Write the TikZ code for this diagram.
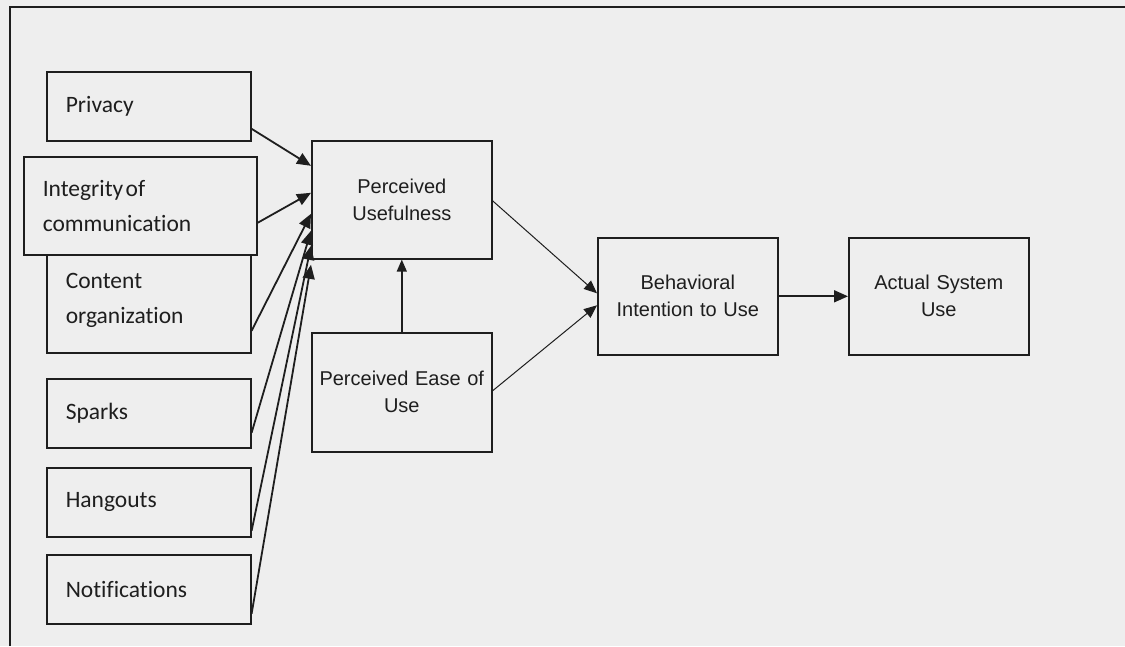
\documentclass[tikz,border=0pt]{standalone}
\usepackage{fontspec}
\setmainfont{Liberation Sans}
\newfontfamily\calfont[Ligatures=NoCommon]{Carlito}
\usetikzlibrary{arrows.meta}
\definecolor{bgc}{HTML}{EEEEEE}
\definecolor{ink}{HTML}{1E1E1E}
\begin{document}
\begin{tikzpicture}[x=1pt,y=-1pt,
  lbox/.style={draw=ink, line width=1.6pt, fill=bgc, rectangle, anchor=north west,
    inner xsep=19pt, inner ysep=0pt, align=left, text width=166pt,
    font=\calfont\fontsize{23.5}{35}\selectfont, text=ink},
  cbox/.style={draw=ink, line width=1.6pt, fill=bgc, rectangle, anchor=north west,
    inner xsep=4pt, inner ysep=0pt, align=center, text width=172pt,
    font=\fontsize{20}{27}\selectfont, text=ink},
  arrA/.style={draw=ink, line width=1.8pt, -{Triangle[length=14pt,width=12pt]}},
  arrB/.style={draw=ink, line width=1.0pt, -{Triangle[length=13pt,width=11pt]}},
  arrC/.style={draw=ink, line width=1.4pt, -{Triangle[length=12pt,width=10pt]}}]
\useasboundingbox (0,0) rectangle (1125,646);
\fill[bgc] (0,0) rectangle (1125,646);
\draw[ink, line width=1.8pt] (10,646) -- (10,7) -- (1125,7);

\node[lbox, minimum height=69pt] (priv) at (46,71) {Privacy};
\node[lbox, minimum height=104pt] (cont) at (46,248) {Content\\organization};
\node[lbox, text width=195pt, minimum height=98pt] (integ) at (23,156) {Integrity\hspace{0.1em}of\\communication};
\node[lbox, minimum height=69pt] (spark) at (46,378) {Sparks};
\node[lbox, minimum height=69pt] (hang) at (46,467) {Hangouts};
\node[lbox, minimum height=69pt] (notif) at (46,554) {Notifications};

\node[cbox, minimum height=118pt] (pu) at (311,140) {Perceived\\Usefulness};
\node[cbox, minimum height=119pt] (peou) at (311,332) {Perceived Ease of\\Use};
\node[cbox, minimum height=117pt] (bi) at (597,237) {Behavioral\\Intention to Use};
\node[cbox, minimum height=117pt] (asu) at (848,237) {Actual System\\Use};

\draw[arrA] ([yshift=-22.5pt]priv.east) -- ([yshift=34pt]pu.west);
\draw[arrA] ([yshift=-17pt]integ.east) -- ([yshift=7pt]pu.west);
\draw[arrA] ([yshift=-30pt]cont.east) -- ([yshift=-14pt]pu.west);
\draw[arrA] ([yshift=-19.5pt]spark.east) -- ([yshift=-31pt]pu.west);
\draw[arrA] ([yshift=-28.5pt]hang.east) -- ([yshift=-46pt]pu.west);
\draw[arrA] ([yshift=-24.5pt]notif.east) -- ([yshift=-65pt]pu.west);

\draw[arrC] (peou.north) -- (pu.south);
\draw[arrB] ([yshift=-1pt]pu.east) -- ([yshift=3pt]bi.west);
\draw[arrB] ([yshift=1.5pt]peou.east) -- ([yshift=-9pt]bi.west);
\draw[arrA] (bi.east) -- (asu.west);
\end{tikzpicture}
\end{document}
